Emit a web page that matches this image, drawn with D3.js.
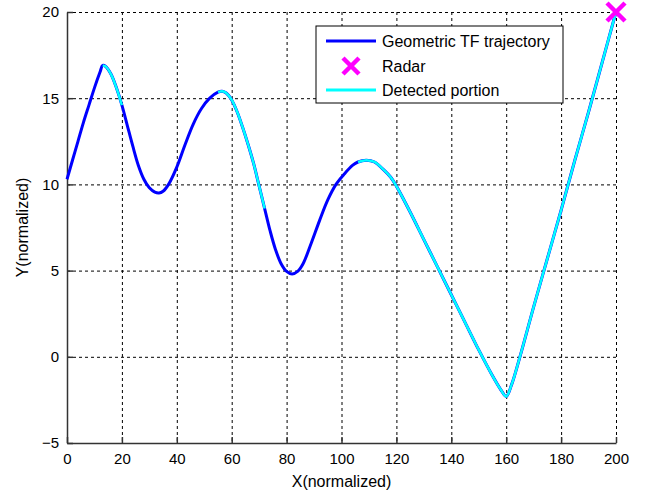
<!DOCTYPE html>
<html lang="en">
  <head>
    <meta charset="UTF-8" />
    <title>Geometric TF trajectory</title>
    <style>
      body { margin: 0; background: #fff; }
      text { font-family: "Liberation Sans", Arial, sans-serif; fill: #000; }
    </style>
  </head>
  <body>
    <div class="chart"></div>
    <script src="https://d3js.org/d3.v7.min.js"></script>
    <script>
      // trajectory samples
      const trajX = [0, 2, 4, 6, 8, 10, 12, 13, 14, 16, 18, 20, 22, 24, 26, 28, 30, 32, 33.5, 35, 37, 40, 43, 46, 49, 52, 55, 56.5, 58, 60, 62, 64, 66, 68, 70, 72, 74, 76, 78, 80, 82, 84, 86, 89, 92, 95, 98, 101, 104, 106, 109, 112, 115, 118, 120, 125, 130, 135, 140, 145, 150, 155, 158, 160, 162, 165, 170, 175, 180, 185, 190, 195, 200];
      const trajY = [10.3, 11.4, 12.5, 13.6, 14.6, 15.6, 16.5, 16.9, 16.85, 16.4, 15.6, 14.6, 13.4, 12.2, 11.1, 10.3, 9.8, 9.55, 9.5, 9.6, 10.0, 11.0, 12.3, 13.5, 14.4, 15.0, 15.35, 15.4, 15.3, 14.9, 14.2, 13.3, 12.3, 11.2, 9.9, 8.6, 7.3, 6.2, 5.4, 4.95, 4.8, 4.95, 5.4, 6.6, 7.9, 9.1, 10.0, 10.6, 11.1, 11.3, 11.4, 11.3, 10.9, 10.4, 9.9, 8.4, 6.8, 5.2, 3.6, 2.0, 0.4, -1.1, -1.9, -2.3, -1.6, 0.0, 2.9, 5.7, 8.5, 11.4, 14.2, 17.1, 20];

      // x ranges of the detected portion
      const detectedRanges = [[13, 20], [55, 72], [106, 200]];

      // radar position
      const radarX = [200];
      const radarY = [20];

      const xTicks = [0, 20, 40, 60, 80, 100, 120, 140, 160, 180, 200];
      const yTicks = [-5, 0, 5, 10, 15, 20];

      const legendLabels = ["Geometric TF trajectory", "Radar", "Detected portion"];

      const drawChart = () => {
        const width = 656;
        const height = 497;
        const left = 67;
        const right = 616;
        const top = 12;
        const bottom = 443;

        const svg = d3
          .select(".chart")
          .append("svg")
          .attr("width", width)
          .attr("height", height);

        const xScale = d3.scaleLinear().domain([0, 200]).range([left, right]);
        const yScale = d3.scaleLinear().domain([-5, 20]).range([bottom, top]);

        // grid
        const grid = svg.append("g").attr("stroke", "#000").attr("stroke-width", 1).attr("stroke-dasharray", "3,3");
        grid
          .selectAll(".vg")
          .data(xTicks.slice(1))
          .join("line")
          .attr("x1", (d) => xScale(d) + 0.5)
          .attr("x2", (d) => xScale(d) + 0.5)
          .attr("y1", top)
          .attr("y2", bottom);
        grid
          .selectAll(".hg")
          .data(yTicks.slice(1))
          .join("line")
          .attr("x1", left)
          .attr("x2", right)
          .attr("y1", (d) => yScale(d) + 0.5)
          .attr("y2", (d) => yScale(d) + 0.5);

        // axes
        const xAxis = d3.axisBottom(xScale).tickValues(xTicks).tickSizeInner(-6).tickSizeOuter(0).tickPadding(10);
        const gx = svg.append("g").attr("transform", `translate(0,${bottom})`).call(xAxis);
        const yAxis = d3.axisLeft(yScale).tickValues(yTicks).tickSizeInner(-6).tickSizeOuter(0).tickPadding(8);
        const gy = svg.append("g").attr("transform", `translate(${left},0)`).call(yAxis);
        [gx, gy].forEach((g) => {
          g.select(".domain").attr("stroke", "#333").attr("stroke-width", 1.5);
          g.selectAll(".tick line").attr("stroke", "#333").attr("stroke-width", 1.5);
          g.selectAll(".tick text").attr("font-size", 15).attr("font-family", "Liberation Sans, Arial, sans-serif").attr("fill", "#000");
        });

        const points = trajX.map((x, i) => ({ x, y: trajY[i] }));
        const line = d3
          .line()
          .x((d) => xScale(d.x))
          .y((d) => yScale(d.y))
          .curve(d3.curveCatmullRom.alpha(0.5));

        // full trajectory
        svg
          .append("path")
          .datum(points)
          .attr("d", line)
          .attr("fill", "none")
          .attr("stroke", "#0000ff")
          .attr("stroke-width", 3);

        // detected portions
        svg
          .selectAll(".detected")
          .data(detectedRanges)
          .join("path")
          .attr("d", (r) => line(points.filter((p) => p.x >= r[0] && p.x <= r[1])))
          .attr("fill", "none")
          .attr("stroke", "#00ffff")
          .attr("stroke-width", 2.5);

        // radar marker
        const cross = (g, s) =>
          g
            .append("path")
            .attr("d", `M${-s},${-s}L${s},${s}M${-s},${s}L${s},${-s}`)
            .attr("stroke", "#ff00ff")
            .attr("stroke-width", 4.5)
            .attr("fill", "none");
        radarX.forEach((x, i) => {
          cross(svg.append("g").attr("transform", `translate(${xScale(x)},${yScale(radarY[i])})`), 9);
        });

        // legend
        const legend = svg.append("g").attr("transform", "translate(316,26)");
        legend.append("rect").attr("width", 247).attr("height", 77).attr("fill", "#fff").attr("stroke", "#000").attr("stroke-width", 1);
        const rowY = [15, 40, 64];
        legend.append("line").attr("x1", 10).attr("x2", 60).attr("y1", rowY[0]).attr("y2", rowY[0]).attr("stroke", "#0000ff").attr("stroke-width", 3);
        cross(legend.append("g").attr("transform", `translate(35,${rowY[1]})`), 8);
        legend.append("line").attr("x1", 10).attr("x2", 60).attr("y1", rowY[2]).attr("y2", rowY[2]).attr("stroke", "#00ffff").attr("stroke-width", 3);
        legend
          .selectAll(".lt")
          .data(legendLabels)
          .join("text")
          .attr("x", 66)
          .attr("y", (d, i) => rowY[i] + 6)
          .attr("font-size", 16)
          .text((d) => d);

        // axis labels
        svg.append("text").attr("x", (left + right) / 2).attr("y", 487).attr("text-anchor", "middle").attr("font-size", 16).text("X(normalized)");
        svg
          .append("text")
          .attr("transform", `translate(28,${(top + bottom) / 2}) rotate(-90)`)
          .attr("text-anchor", "middle")
          .attr("font-size", 16)
          .text("Y(normalized)");
      };

      drawChart();
    </script>
  </body>
</html>
